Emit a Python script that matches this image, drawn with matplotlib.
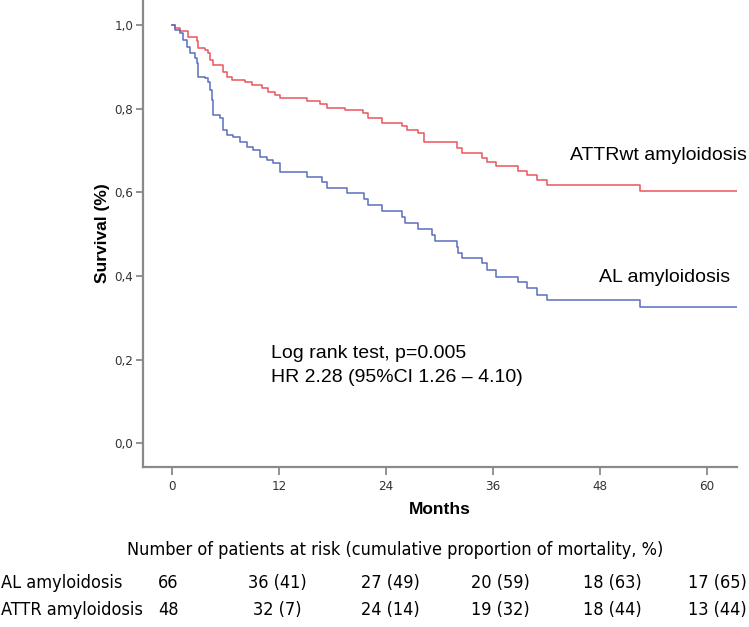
import matplotlib
matplotlib.use("Agg")
import matplotlib.pyplot as plt
from matplotlib import font_manager
from matplotlib.font_manager import FontProperties

# pick a condensed sans if one is installed, else Liberation Sans
narrow_file = None
for f in font_manager.fontManager.ttflist:
    nm = (f.name + " " + f.fname).lower()
    if ("narrow" in nm or "condensed" in nm) and "bold" not in nm and "italic" not in nm \
            and "oblique" not in nm and f.weight in (400, "normal", "regular"):
        if "liberation" in nm or "dejavu" in nm or "roboto" in nm or "open" in nm or "noto" in nm:
            narrow_file = f.fname
            break

SANS = "Liberation Sans"


def nprop(size):
    if narrow_file:
        return FontProperties(fname=narrow_file, size=size)
    return FontProperties(family=SANS, size=size)


# ---- data ----
attr_t = [0, 0.3, 0.9, 1.8, 2.8, 2.9, 3.7, 4.0, 4.3, 4.6, 5.7, 6.2, 6.7, 8.2, 9.0, 10.1,
          10.8, 11.6, 12.1, 15.1, 16.6, 17.4, 19.4, 21.4, 22.0, 23.6, 25.8, 26.4, 27.6,
          28.3, 32.0, 32.5, 34.8, 35.3, 36.4, 38.8, 39.8, 41.0, 42.1, 52.5]
attr_s = [1.0, 0.993, 0.986, 0.971, 0.962, 0.945, 0.940, 0.933, 0.916, 0.904, 0.887,
          0.876, 0.868, 0.864, 0.856, 0.849, 0.840, 0.833, 0.825, 0.818, 0.811, 0.801,
          0.797, 0.789, 0.778, 0.766, 0.758, 0.749, 0.742, 0.720, 0.706, 0.694, 0.682,
          0.672, 0.663, 0.651, 0.641, 0.629, 0.617, 0.603]

al_t = [0, 0.3, 0.9, 1.2, 1.7, 2.0, 2.6, 2.8, 2.9, 3.7, 4.0, 4.3, 4.5, 4.6, 5.4, 5.7,
        6.2, 6.8, 7.6, 8.4, 9.1, 9.9, 10.7, 11.3, 12.1, 15.1, 16.8, 17.4, 19.6, 21.6,
        22.0, 23.6, 25.8, 26.1, 27.6, 29.2, 29.5, 32.0, 32.1, 32.5, 34.8, 35.3, 36.4,
        38.8, 39.8, 41.0, 42.1, 52.5]
al_s = [1.0, 0.988, 0.981, 0.964, 0.947, 0.933, 0.921, 0.909, 0.876, 0.873, 0.864,
        0.844, 0.821, 0.785, 0.778, 0.749, 0.737, 0.732, 0.720, 0.708, 0.701, 0.684,
        0.677, 0.670, 0.648, 0.636, 0.624, 0.610, 0.598, 0.584, 0.569, 0.555, 0.541,
        0.526, 0.512, 0.498, 0.483, 0.469, 0.455, 0.443, 0.431, 0.414, 0.397, 0.385,
        0.371, 0.354, 0.342, 0.325]
t_end = 63.4

x_ticks = [0, 12, 24, 36, 48, 60]
y_ticks = [0.0, 0.2, 0.4, 0.6, 0.8, 1.0]
y_ticklabels = ["0,0", "0,2", "0,4", "0,6", "0,8", "1,0"]

risk_groups = ["AL amyloidosis", "ATTR amyloidosis"]
al_risk = ["66", "36 (41)", "27 (49)", "20 (59)", "18 (63)", "17 (65)"]
attr_risk = ["48", "32 (7)", "24 (14)", "19 (32)", "18 (44)", "13 (44)"]

RED = "#e9555c"
BLUE = "#5b6dbd"
GRAY = "#8a8a8a"

fig = plt.figure(figsize=(7.49, 6.27), dpi=100)
W, H = 749, 627
ax = fig.add_axes([143 / W, 1 - 467 / H, (737 - 143) / W, 467 / H])

ax.step(attr_t + [t_end], attr_s + [attr_s[-1]], where="post", color=RED, lw=1.1)
ax.step(al_t + [t_end], al_s + [al_s[-1]], where="post", color=BLUE, lw=1.1)

ax.set_xlim(-3.25, 63.4)
ax.set_ylim(-0.057, 1.06)
for s in ["top", "right"]:
    ax.spines[s].set_visible(False)
for s in ["left", "bottom"]:
    ax.spines[s].set_color(GRAY)
    ax.spines[s].set_linewidth(1.6)

ax.set_xticks(x_ticks)
ax.set_xticklabels([str(v) for v in x_ticks], color="#333333")
ax.set_yticks(y_ticks)
ax.set_yticklabels(y_ticklabels, color="#333333")
for lbl in ax.get_xticklabels() + ax.get_yticklabels():
    lbl.set_fontproperties(nprop(9.5 if narrow_file else 9))
ax.tick_params(axis="x", direction="out", length=6, width=1.3, color=GRAY, pad=3)
ax.tick_params(axis="y", direction="out", length=5, width=1.3, color=GRAY, pad=2)

ax.set_ylabel("Survival (%)", fontfamily=SANS, fontsize=12.5, fontweight="bold", labelpad=3)
ax.set_xlabel("Months", fontfamily=SANS, fontsize=12.5, fontweight="bold", labelpad=7)

# curve labels
fig.text(747 / W, 1 - 155 / H, "ATTRwt amyloidosis", fontfamily=SANS, fontsize=14,
         ha="right", va="center", color="black")
fig.text(730 / W, 1 - 278 / H, "AL amyloidosis", fontfamily=SANS, fontsize=14,
         ha="right", va="center", color="black")
fig.text(271 / W, 1 - 353 / H, "Log rank test, p=0.005", fontfamily=SANS, fontsize=14,
         ha="left", va="center")
fig.text(271 / W, 1 - 377 / H, "HR 2.28 (95%CI 1.26 \u2013 4.10)", fontfamily=SANS,
         fontsize=14, ha="left", va="center")

# risk table
tsize = 13 if narrow_file else 12
fig.text(395 / W, 1 - 550 / H,
         "Number of patients at risk (cumulative proportion of mortality, %)",
         fontproperties=nprop(tsize), ha="center", va="center")
col_px = [168, 277, 390, 500, 612, 717]
row_y = [583, 610]
for lab, vals, yy in zip(risk_groups, [al_risk, attr_risk], row_y):
    fig.text(1 / W, 1 - yy / H, lab, fontproperties=nprop(tsize), ha="left", va="center")
    for v, cx in zip(vals, col_px):
        fig.text(cx / W, 1 - yy / H, v, fontproperties=nprop(tsize), ha="center", va="center")

fig.savefig("out.png", dpi=100)
